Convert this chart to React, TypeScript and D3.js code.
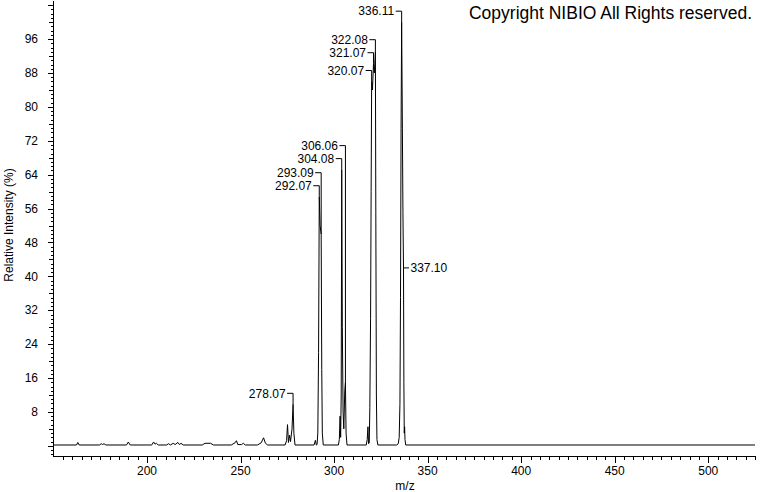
import React from 'react';
import * as d3 from 'd3';

// profile spectrum, [m/z, relative intensity %]
const spectrum: [number, number][] = [
  [150, 0.2], [162.3, 0.2], [163, 0.8], [163.7, 0.2],
  [174.6, 0.2], [175.5, 0.5], [176.2, 0.3], [177, 0.5], [178, 0.2],
  [189, 0.2], [190, 0.9], [191, 0.2],
  [202.5, 0.2], [203.5, 0.9], [204.3, 0.4], [205, 0.6], [206, 0.2],
  [210.5, 0.2], [211.5, 0.5], [212.5, 0.2], [214, 0.6], [215, 0.3], [216.5, 0.8], [217.3, 0.3], [218.2, 0.6], [219.3, 0.2],
  [229.5, 0.2], [231, 0.6], [234, 0.6], [235.5, 0.2],
  [245, 0.2], [247, 0.7], [247.8, 1.2], [248.5, 0.3], [250.5, 0.3], [251.5, 0.6], [252.5, 0.2],
  [259, 0.2], [261, 0.7], [262.3, 1.9], [263.3, 0.6], [264.5, 0.2],
  [273.8, 0.2], [274.6, 1.2], [275.1, 5], [275.6, 0.8], [276.2, 2.5], [276.7, 1], [277.5, 4], [278.07, 9.8], [278.5, 3], [279.1, 0.2],
  [289.3, 0.2], [290, 1.3], [290.5, 0.2],
  [290.9, 0.3], [291.3, 3], [291.7, 22], [292.07, 58.8], [292.5, 52], [293.09, 50], [293.4, 18], [293.7, 3], [294.2, 0.2],
  [302.3, 0.2], [302.8, 1.5], [303.2, 7], [303.5, 2], [303.8, 12], [304.08, 65.2], [304.4, 28], [304.8, 8], [305.2, 4], [305.7, 13], [306.06, 15], [306.4, 3], [306.9, 0.2],
  [317.2, 0.2], [317.7, 1.5], [318.1, 4.5], [318.4, 0.5], [318.8, 0.7], [319.1, 9], [319.5, 30], [319.8, 60], [320.07, 86], [320.5, 84], [321.07, 90.2], [321.5, 88], [322.08, 93.1], [322.3, 55], [322.6, 12], [322.9, 1.5], [323.4, 0.2],
  [333.4, 0.2], [334.3, 0.5], [334.8, 2], [335.2, 10], [335.5, 35], [335.8, 75], [336.11, 100], [336.5, 75], [336.8, 55], [337.1, 42], [337.3, 15], [337.5, 3], [337.7, 4.5], [337.9, 1.5], [338.3, 0.2],
  [525, 0.2],
];

const labeledPeaks = [278.07, 292.07, 293.09, 304.08, 306.06, 320.07, 321.07, 322.08, 336.11, 337.1];
const xTickLabels = [200, 250, 300, 350, 400, 450, 500];
const yTickLabels = [8, 16, 24, 32, 40, 48, 56, 64, 72, 80, 88, 96];

const FONT = '"Liberation Sans", Arial, sans-serif';

const App = () => {
  const ref = React.useRef<SVGSVGElement>(null);

  React.useEffect(() => {
    const svg = d3.select(ref.current);
    svg.selectAll('*').remove();
    const width = 760, height = 492;

    const x = d3.scaleLinear().domain([150, 525]).range([53.5, 755]);
    const y = d3.scaleLinear().domain([-2.4, 105]).range([456, 1]);

    svg.append('rect').attr('width', width).attr('height', height).attr('fill', 'white');

    // y axis with minor ticks every 1
    const yMinor = d3.range(-2, 105, 1);
    const gy = svg.append('g').attr('stroke', 'black').attr('shape-rendering', 'crispEdges');
    gy.append('line').attr('x1', 53.5).attr('x2', 53.5).attr('y1', 1).attr('y2', 456.5);
    gy.selectAll('line.t').data(yMinor).join('line').attr('class', 't')
      .attr('x1', d => 53.5 - (d % 8 === 0 ? 6 : d % 4 === 0 ? 5 : 3))
      .attr('x2', 53.5)
      .attr('y1', d => Math.round(y(d)) + 0.5)
      .attr('y2', d => Math.round(y(d)) + 0.5);

    svg.append('g').selectAll('text').data(yTickLabels).join('text')
      .attr('x', 38).attr('y', d => y(d)).attr('dy', '0.35em')
      .attr('text-anchor', 'end').style('font-family', FONT).style('font-size', '12px')
      .text(d => d);

    // x axis with minor ticks every 5
    const xMinor = d3.range(155, 526, 5);
    const gx = svg.append('g').attr('stroke', 'black').attr('shape-rendering', 'crispEdges');
    gx.append('line').attr('x1', 53.5).attr('x2', 756).attr('y1', 456.5).attr('y2', 456.5);
    gx.selectAll('line.t').data(xMinor).join('line').attr('class', 't')
      .attr('x1', d => Math.round(x(d)) + 0.5)
      .attr('x2', d => Math.round(x(d)) + 0.5)
      .attr('y1', 456.5)
      .attr('y2', d => 456.5 + (d % 50 === 0 ? 6 : 3));

    svg.append('g').selectAll('text').data(xTickLabels).join('text')
      .attr('x', d => x(d)).attr('y', 475)
      .attr('text-anchor', 'middle').style('font-family', FONT).style('font-size', '12px')
      .text(d => d);

    svg.append('text').attr('x', 405).attr('y', 490).attr('text-anchor', 'middle')
      .style('font-family', FONT).style('font-size', '12px').text('m/z');

    svg.append('text').attr('transform', 'translate(13,225) rotate(-90)').attr('text-anchor', 'middle')
      .style('font-family', FONT).style('font-size', '12px').text('Relative Intensity (%)');

    svg.append('text').attr('x', 752).attr('y', 19).attr('text-anchor', 'end')
      .style('font-family', FONT).style('font-size', '17.5px').text('Copyright NIBIO All Rights reserved.');

    // spectrum
    const line = d3.line<[number, number]>().x(d => x(d[0])).y(d => y(d[1]));
    svg.append('path').datum(spectrum).attr('d', line).attr('fill', 'none')
      .attr('stroke', 'black').attr('stroke-width', 1);

    // peak labels, stacked left to right
    const textW = 37;
    let prev: { px: number; ly: number } | null = null;
    const gl = svg.append('g');
    labeledPeaks.slice().sort((a, b) => a - b).forEach(mz => {
      const pt = spectrum.find(p => p[0] === mz)!;
      const px = x(mz), py = y(pt[1]);
      let ly = py - 11;
      if (prev && Math.abs(prev.px - px) < textW + 8) ly = Math.min(ly, prev.ly - 13);
      const label = mz.toFixed(2);
      if (ly < 4) {
        ly = py;
        gl.append('path').attr('d', `M${px},${ly}H${px + 5.5}`).attr('stroke', 'black').attr('fill', 'none');
        gl.append('text').attr('x', px + 7).attr('y', ly).attr('dy', '0.35em')
          .style('font-family', FONT).style('font-size', '12px').text(label);
        return;
      }
      gl.append('path').attr('d', `M${px - 6},${ly}H${px}V${py}`).attr('stroke', 'black').attr('fill', 'none');
      gl.append('text').attr('x', px - 7.5).attr('y', ly).attr('dy', '0.35em').attr('text-anchor', 'end')
        .style('font-family', FONT).style('font-size', '12px').text(label);
      prev = { px, ly };
    });
  }, []);

  return (
    <svg ref={ref} width={760} height={492} style={{ position: 'absolute', left: 0, top: 0 }} />
  );
};

export default App;
